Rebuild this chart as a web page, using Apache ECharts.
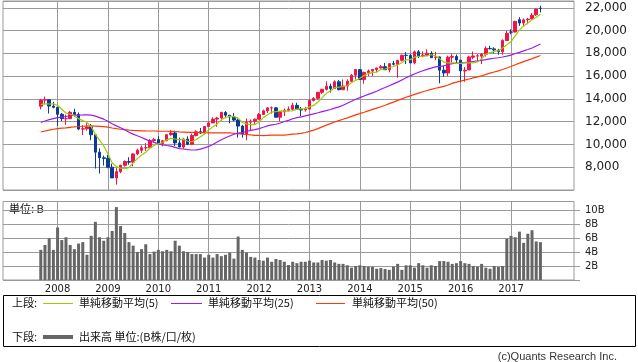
<!DOCTYPE html>
<html><head><meta charset="utf-8">
<script src="https://cdn.jsdelivr.net/npm/echarts@6/dist/echarts.min.js"></script>
<style>html,body{margin:0;padding:0;background:#fff}#c{width:638px;height:362px}</style>
</head><body><div id="c"></div>
<script>
// Monthly candles, Sep 2007 .. Aug 2017
const firstMonth = '2007-09';
const opens = [13358,13896,13930,13372,
13262,12650,12262,12263,12820,12638,11350,11378,11544,10851,9325,8829,
8772,8001,7063,7609,8168,8500,8447,9172,9496,9712,9713,10345,
10428,10067,10325,10857,11009,10137,9774,10466,10015,10788,11118,11006,
11577,11892,12226,12320,12811,12570,12414,12143,11614,10913,11955,12046,
12218,12633,12952,13212,13214,12393,12880,13009,13091,13437,13096,13026,
13104,13861,14054,14579,14840,15116,14910,15500,14810,15130,15546,16086,
16572,15698,16321,16458,16581,16717,16827,16561,17099,17043,17391,17827,
17823,17170,18134,17778,17841,18011,17638,17690,16528,16278,17664,17720,
17405,16451,16546,17661,17783,17754,17925,18434,18394,18282,18145,19125,
19873,19872,20957,20665,20962,21030,21392,21961];
const closes = [13896,13930,13372,13265,
12650,12266,12263,12820,12638,11350,11378,11544,10851,9325,8829,8776,
8001,7063,7609,8168,8500,8447,9172,9496,9712,9713,10345,10428,
10067,10325,10857,11009,10137,9774,10466,10015,10788,11118,11006,11578,
11892,12226,12320,12811,12570,12414,12143,11614,10913,11955,12046,12218,
12633,12952,13212,13214,12393,12880,13009,13091,13437,13096,13026,13104,
13861,14054,14579,14840,15116,14910,15500,14810,15130,15546,16086,16577,
15699,16322,16458,16581,16717,16827,16563,17098,17043,17391,17828,17823,
17165,18133,17776,17841,18011,17620,17690,16528,16285,17664,17720,17425,
16466,16517,17685,17774,17787,17930,18432,18401,18308,18142,19124,19763,
19864,20812,20663,20941,21009,21350,21891,21948];
const lows = [13080,13520,12724,13167,
11634,12058,11731,12246,12442,11288,10827,11216,10365,7882,7449,8149,
7909,7050,6470,7466,8045,8221,8087,9049,9252,9430,9679,10240,
10025,9835,10300,10765,9870,9757,9614,9936,9941,10711,10929,11006,
11535,11892,11555,12094,12309,11862,12044,10604,10597,10362,11231,11735,
12218,12630,12760,12710,12391,12035,12492,12987,12977,13064,12471,12883,
13104,13784,13937,14434,14747,14551,14910,14760,14777,14720,15509,15703,
15699,15340,16015,16015,16334,16669,16563,16333,16944,15855,17280,17067,
17136,17038,17599,17660,17769,17596,17399,15370,15942,16013,17210,17138,
15450,15503,16546,17484,17331,17063,17713,18355,17992,17883,17888,19090,
19677,19832,20412,20379,20553,21011,21280,21600];
const highs = [14000,14198,13943,13749,
13280,12767,12622,12943,13136,12813,11698,11867,11790,10882,9654,9026,
9088,8315,7924,8221,8588,8877,9199,9630,9917,10120,10471,10580,
10730,10403,10907,11258,11205,10595,10581,10720,10948,11247,11451,11585,
12020,12391,12419,12876,12929,12570,12753,12284,11717,12284,12187,12288,
12756,13056,13290,13338,13280,12898,13160,13330,13653,13662,13290,13305,
13969,14149,14585,14888,15542,15340,15634,15658,15709,15721,16174,16588,
16588,16398,16588,16604,16736,16978,17152,17136,17350,17395,17895,18103,
17951,18244,18289,18175,18351,18190,18137,17712,16933,17799,17977,17900,
17405,16795,17790,18168,17934,18016,18622,18668,18534,18399,19226,19988,
20125,20851,21169,21070,21112,21535,21929,22179];
const ma5 = [13501,13561,13554,13564,
13423,13097,12763,12653,12527,12267,12090,11946,11552,10890,10385,9865,
9156,8399,8056,7923,7868,7957,8379,8757,9065,9308,9688,9939,
10053,10176,10404,10537,10479,10420,10449,10280,10236,10432,10679,10901,
11276,11564,11804,12165,12364,12468,12452,12310,11931,11808,11734,11749,
11953,12361,12612,12846,12881,12930,12942,12917,12962,13103,13132,13151,
13305,13428,13725,14088,14490,14700,14989,15035,15093,15179,15414,15630,
15808,16046,16228,16327,16355,16581,16629,16757,16850,16984,17185,17437,
17450,17668,17745,17748,17785,17876,17788,17538,17227,17157,17177,17124,
17112,17158,17163,17173,17246,17539,17922,18065,18172,18243,18481,18748,
19040,19541,20045,20409,20658,20955,21171,21428];
const ma25 = [11925,12059,12177,12275,
12352,12408,12455,12523,12574,12581,12590,12605,12583,12489,12359,12221,
12043,11820,11634,11467,11284,11077,10907,10759,10613,10446,10302,10184,
10056,9963,9907,9857,9750,9635,9600,9545,9515,9526,9593,9703,
9827,9996,10207,10415,10591,10747,10895,10993,11050,11139,11233,11308,
11396,11511,11627,11721,11776,11886,12015,12120,12257,12350,12426,12510,
12601,12688,12782,12883,12975,13068,13192,13299,13439,13624,13790,13971,
14110,14258,14398,14533,14673,14850,14998,15161,15319,15477,15667,15859,
16021,16192,16341,16471,16598,16698,16809,16851,16910,17011,17098,17151,
17147,17180,17234,17287,17335,17384,17448,17521,17570,17614,17683,17760,
17842,17988,18089,18216,18342,18476,18647,18817];
const ma50 = [11092,11182,11264,11333,
11390,11427,11462,11507,11553,11575,11599,11621,11635,11618,11593,11568,
11520,11445,11388,11336,11296,11261,11235,11219,11201,11185,11181,11181,
11166,11158,11158,11156,11136,11104,11090,11068,11060,11054,11041,11031,
11024,11020,11014,11024,11029,11016,10986,10950,10904,10876,10839,10805,
10790,10784,10795,10814,10817,10818,10825,10860,10901,10932,10976,11051,
11152,11258,11389,11545,11695,11830,11970,12097,12216,12337,12465,12602,
12709,12827,12955,13080,13197,13313,13442,13588,13720,13867,14008,14142,
14265,14397,14514,14627,14740,14837,14939,15021,15104,15225,15361,15471,
15559,15645,15746,15842,15934,16028,16149,16259,16365,16466,16580,16714,
16850,17004,17140,17278,17407,17537,17673,17813];
const volumes = [4.3,5.0,5.95,4.3,7.5,5.7,6.1,5.0,4.4,5.2,5.4,3.6,6.3,8.3,6.1,5.6,6.1,7.0,10.4,7.7,
6.7,5.4,4.9,4.0,4.4,5.1,3.7,4.05,4.3,4.1,4.3,4.1,5.6,4.9,4.1,4.0,3.7,3.7,3.7,3.2,
3.6,3.2,3.7,3.4,3.6,3.9,3.05,6.2,4.3,3.9,3.3,3.2,2.86,2.76,3.2,2.6,3.0,2.86,2.6,2.14,
2.6,2.4,2.6,2.6,2.76,2.5,2.5,2.86,2.76,2.86,2.5,2.3,2.3,2.1,1.76,2.0,2.1,2.0,1.9,1.86,
1.6,1.7,1.57,1.45,1.9,2.3,1.45,2.1,2.1,1.76,2.4,2.1,1.76,2.1,2.0,2.7,2.7,2.6,2.3,2.4,
2.7,2.4,2.3,2.0,1.9,2.3,1.76,1.6,2.0,1.86,2.0,5.9,6.3,6.1,6.9,5.3,6.6,7.1,5.5,5.4];

// axis: monthly slots Dec 2006 .. Apr 2018; labelled years
const axisStart = [2006, 12], axisSlots = 137;
const yearLabels = ['2008','2009','2010','2011','2012','2013','2014','2015','2016','2017'];
const priceTicks = {min: 6000, max: 22600, step: 2000};
const volTicks = {min: 0, max: 11.2, step: 2};

const months = [];
for (let i = 0; i < axisSlots; i++) {
  const k = axisStart[1] - 1 + i;
  const y = axisStart[0] + Math.floor(k / 12), m = k % 12 + 1;
  months.push(y + '-' + (m < 10 ? '0' + m : m));
}
const off = months.indexOf(firstMonth);
const tail = axisSlots - off - closes.length;
const padIt = arr => Array(off).fill('-').concat(arr, Array(tail).fill('-'));
const candles = padIt(opens.map((o, i) => [o, closes[i], lows[i], highs[i]]));
const isYearStart = (idx) => !!months[idx] && months[idx].slice(5) === '01' && yearLabels.indexOf(months[idx].slice(0, 4)) >= 0;

const UP = '#f2134a', DOWN = '#0b3a98';
const grid = '#9a9a9a';
const chart = echarts.init(document.getElementById('c'), null, {renderer: 'canvas'});
const xBase = (gi, showLabel) => ({
  type: 'category', gridIndex: gi, data: months, boundaryGap: false,
  axisLine: {show: false}, axisTick: {show: false},
  axisLabel: {show: showLabel, interval: (i) => isYearStart(i), formatter: v => v.slice(0, 4),
    fontSize: 10, fontFamily: 'DejaVu Sans', color: '#222', margin: 4},
  splitLine: {show: true, interval: (i) => isYearStart(i), lineStyle: {color: grid, width: 1}}
});
const txt = (x, y, text, extra) => ({type: 'text', x, y, silent: true,
  style: Object.assign({text, font: '11px "Noto Sans CJK JP"', fill: '#111', verticalAlign: 'middle'}, extra || {})});
const ln = (x1, x2, y, color, w) => ({type: 'line', silent: true, shape: {x1, y1: y, x2, y2: y}, style: {stroke: color, lineWidth: w}});

chart.setOption({
  animation: false,
  grid: [
    {left: 3, top: 1, width: 571, height: 189, show: true, borderColor: grid, borderWidth: 1},
    {left: 3, top: 201.5, width: 571, height: 78.5, show: true, borderColor: grid, borderWidth: 1}
  ],
  xAxis: [xBase(0, false), xBase(1, true)],
  yAxis: [
    {type: 'value', gridIndex: 0, position: 'right', min: priceTicks.min, max: priceTicks.max, interval: priceTicks.step,
     axisLine: {show: false}, axisTick: {show: false},
     axisLabel: {margin: 11, fontSize: 12, fontFamily: 'DejaVu Sans', color: '#222', showMaxLabel: false,
       formatter: v => (v < 8000 || v > 22000) ? '' : v.toLocaleString('en-US')},
     splitLine: {lineStyle: {color: grid, width: 1}}},
    {type: 'value', gridIndex: 1, position: 'right', min: volTicks.min, max: volTicks.max, interval: volTicks.step,
     axisLine: {show: false}, axisTick: {show: true, length: 6, lineStyle: {color: grid}},
     axisLabel: {margin: 11, fontSize: 10, fontFamily: 'DejaVu Sans', color: '#222', showMaxLabel: false,
       formatter: v => (v > 0 && v <= 10 && v % 2 === 0) ? v + 'B' : ''},
     splitLine: {lineStyle: {color: grid, width: 1}}}
  ],
  series: [
    {type: 'candlestick', xAxisIndex: 0, yAxisIndex: 0, data: candles, barWidth: 3,
     itemStyle: {color: UP, color0: DOWN, borderColor: UP, borderColor0: DOWN, borderWidth: 1}},
    {type: 'line', xAxisIndex: 0, yAxisIndex: 0, data: padIt(ma50), showSymbol: false, lineStyle: {color: '#ff3a00', width: 1.2}, z: 3},
    {type: 'line', xAxisIndex: 0, yAxisIndex: 0, data: padIt(ma25), showSymbol: false, lineStyle: {color: '#9b1cf2', width: 1.2}, z: 3},
    {type: 'line', xAxisIndex: 0, yAxisIndex: 0, data: padIt(ma5), showSymbol: false, lineStyle: {color: '#9ccc00', width: 1.2}, z: 4},
    {type: 'bar', xAxisIndex: 1, yAxisIndex: 1, data: padIt(volumes), barWidth: 3, itemStyle: {color: '#666666'}}
  ],
  graphic: [
    txt(9, 209, '単位: B'),
    {type: 'rect', silent: true, shape: {x: 3.5, y: 295.5, width: 632, height: 51}, style: {fill: 'none', stroke: '#000', lineWidth: 1}},
    txt(12, 303, '上段:'),
    ln(43, 73, 303.5, '#9ccc00', 1), txt(79, 303, '単純移動平均(5)'),
    ln(171, 202, 303.5, '#9b1cf2', 1), txt(208, 303, '単純移動平均(25)'),
    ln(316, 345, 303.5, '#ff3a00', 1), txt(352, 303, '単純移動平均(50)'),
    txt(12, 337, '下段:'),
    ln(43, 73, 337, '#666666', 4), txt(79, 337, '出来高 単位:(B株/口/枚)'),
    txt(617, 357, '(c)Quants Research Inc.', {align: 'right', font: '11px "Liberation Sans"', fill: '#333'})
  ]
});
</script></body></html>
